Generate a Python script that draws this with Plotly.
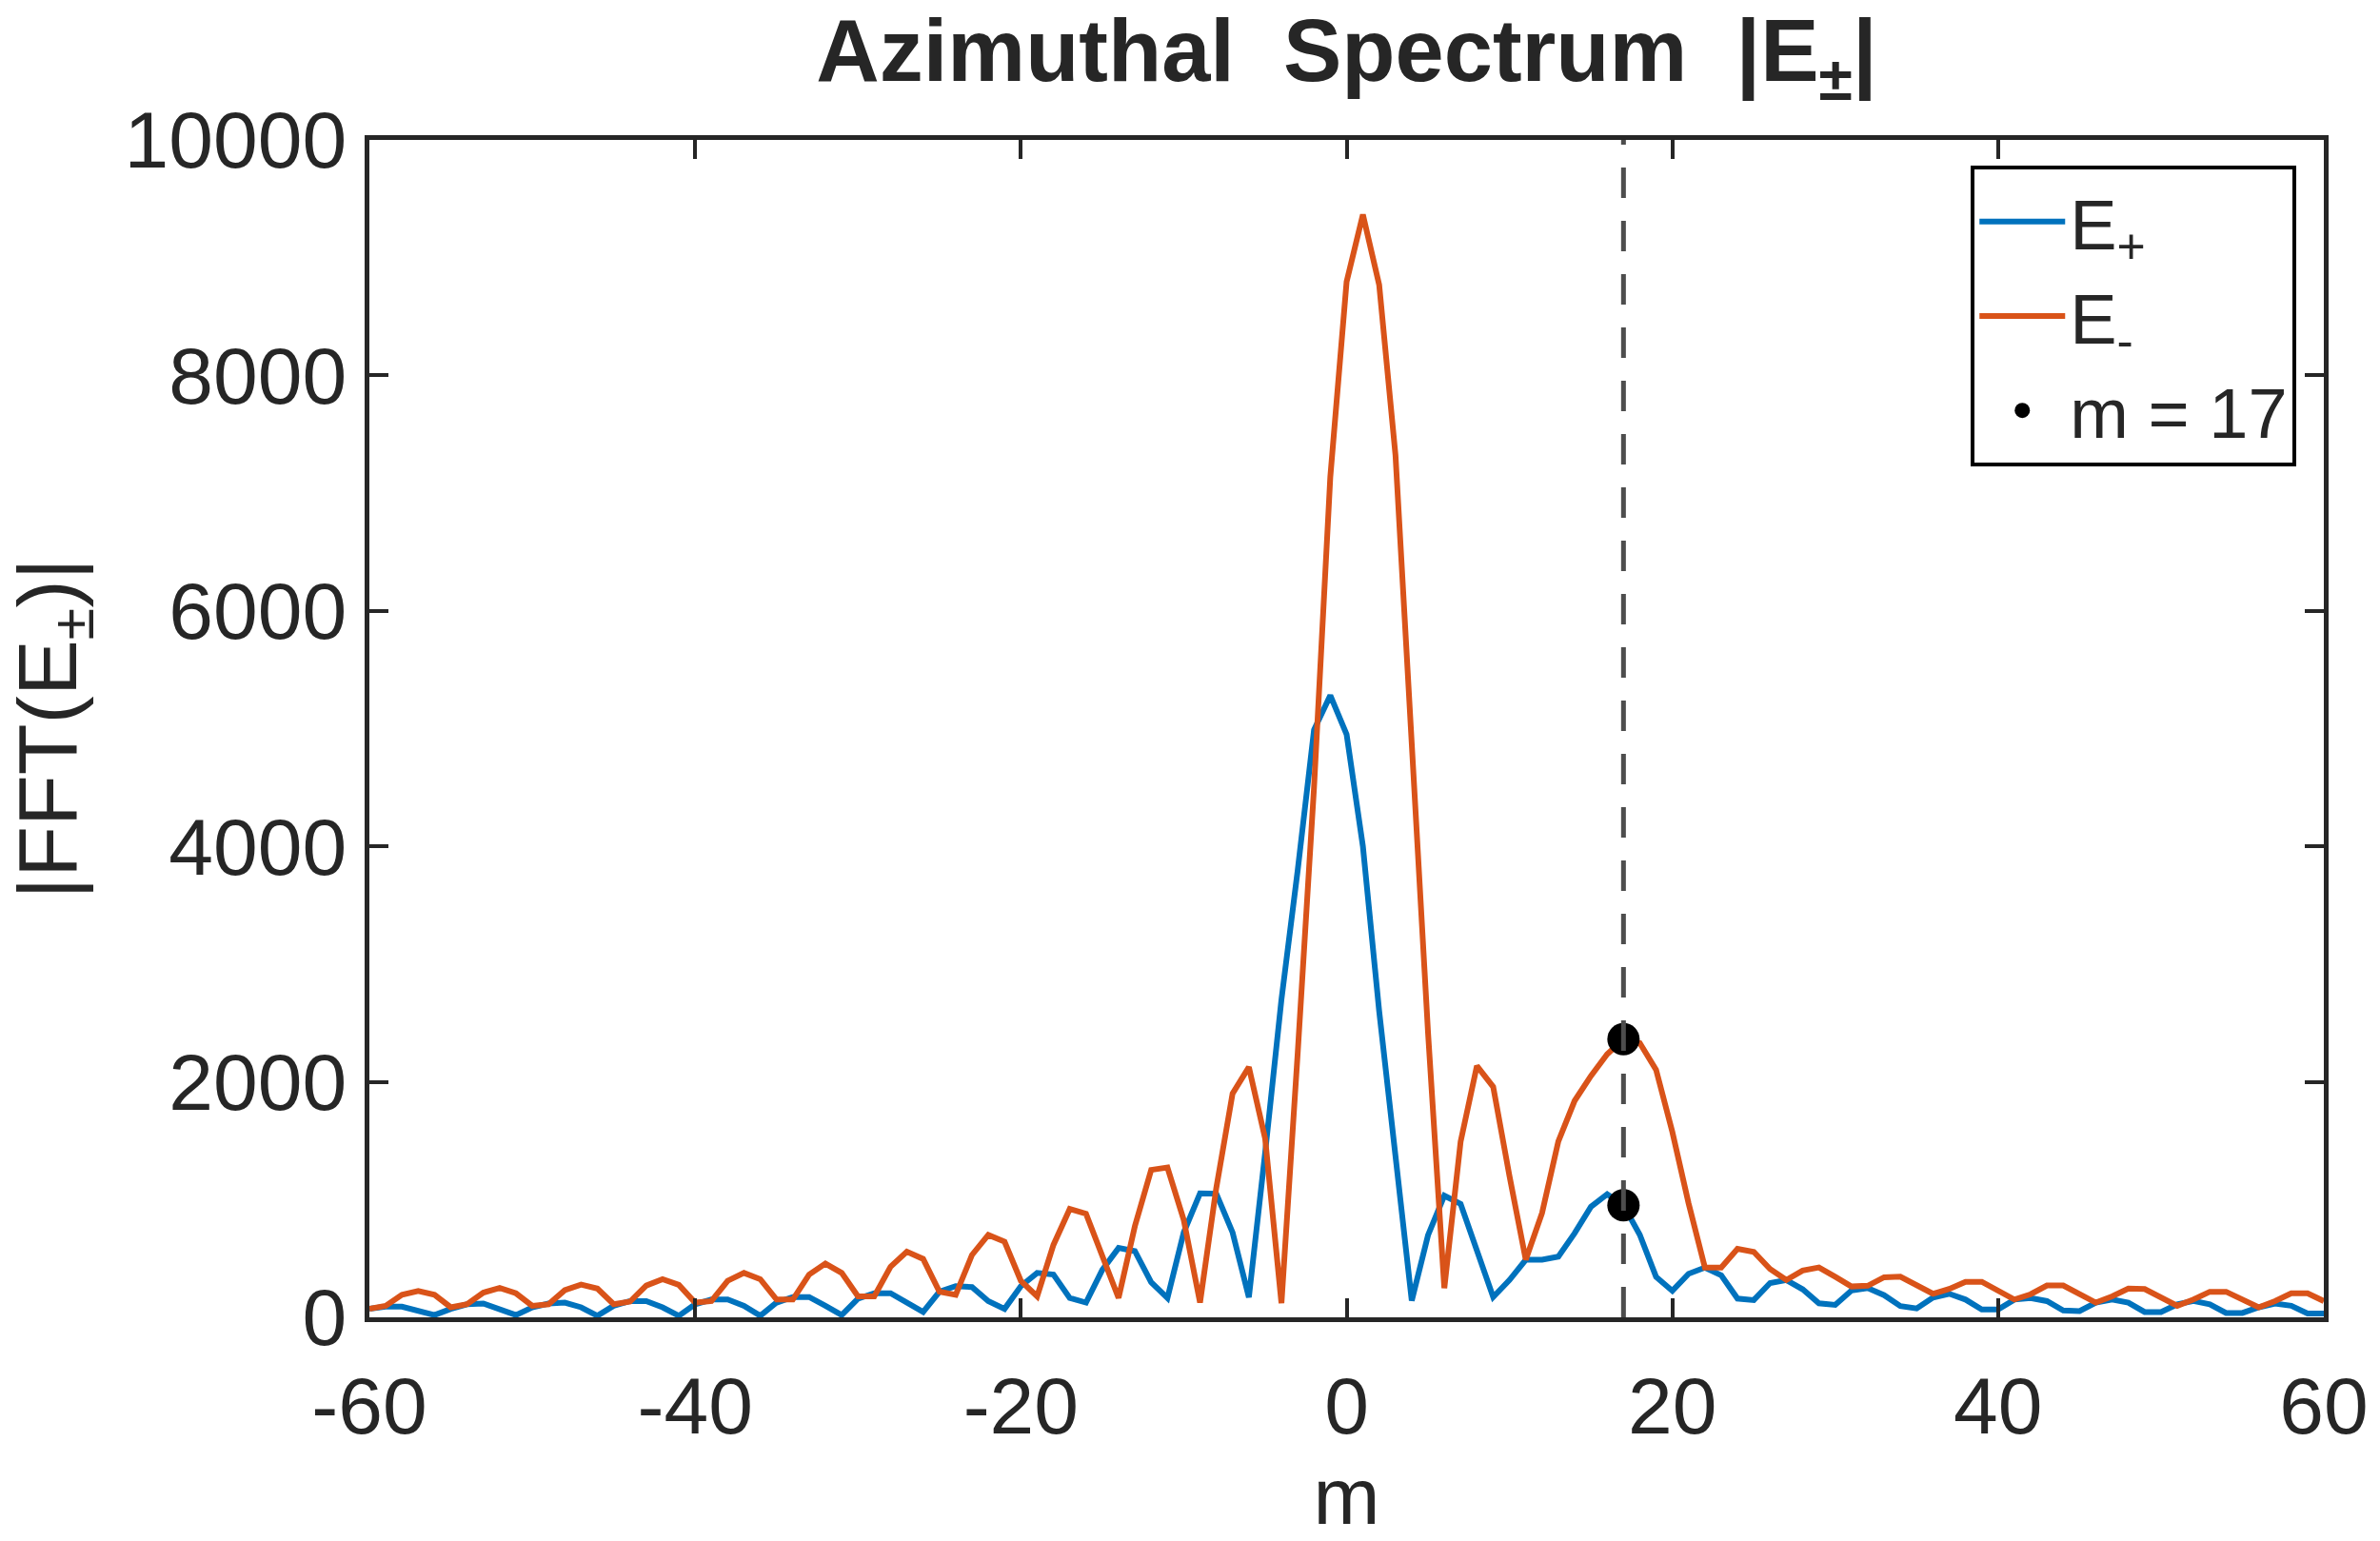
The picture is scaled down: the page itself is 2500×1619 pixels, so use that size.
import plotly.graph_objects as go

# ---------------- data ----------------
m_values = list(range(-60, 61))

e_plus = [
    72, 90, 90, 58, 19, 72, 111, 117, 72, 19,          # -60 .. -51
    85, 117, 125, 85, 13, 98, 138, 138, 85, 13,         # -50 .. -41
    111, 151, 151, 98, 13, 125, 172, 172, 98, 19,       # -40 .. -31
    159, 204, 204, 125, 45, 218, 265, 257, 138, 72,     # -30 .. -21
    265, 377, 363, 164, 125, 403, 589, 562, 297, 164,   # -20 .. -11
    721, 1053, 1050, 720, 170, 1400, 2700, 3800, 4990, 5282,  # -10 .. -1
    4951,                                               # 0
    4000, 2600, 1371, 142, 698, 1033, 963, 566, 172, 317,     # 1 .. 10
    489, 489, 516, 714, 939, 1045, 952, 701, 344, 225,  # 11 .. 20
    370, 423, 357, 159, 146, 291, 317, 238, 119, 106,   # 21 .. 30
    228, 248, 188, 95, 75, 168, 200, 151, 66, 66,       # 31 .. 40
    151, 164, 138, 58, 53, 125, 151, 125, 45, 45,       # 41 .. 50
    111, 138, 111, 37, 37, 85, 117, 98, 32, 32,         # 51 .. 60
]

e_minus = [
    72, 98, 191, 223, 191, 85, 111, 210, 249, 204,      # -60 .. -51
    98, 111, 231, 278, 244, 111, 133, 270, 324, 276,    # -50 .. -41
    125, 138, 310, 377, 324, 151, 151, 363, 456, 377,   # -40 .. -31
    178, 178, 430, 557, 496, 218, 191, 530, 700, 642,   # -30 .. -21
    310, 178, 615, 920, 880, 522, 164, 774, 1252, 1273, # -20 .. -11
    827, 125, 1100, 1901, 2125, 1517, 120, 2250, 4500, 7139,  # -10 .. -1
    8796,                                               # 0
    9366, 8769, 7325, 4823, 2418, 248, 1492, 2135, 1958, 1200,  # 1 .. 10
    489, 886, 1495, 1839, 2050, 2235, 2362, 2330, 2103, 1574,   # 11 .. 20
    966, 423, 423, 582, 556, 410, 317, 397, 423, 344,   # 21 .. 30
    262, 268, 340, 345, 274, 200, 241, 302, 302, 231,   # 31 .. 40
    151, 196, 270, 270, 191, 125, 178, 244, 240, 164,   # 41 .. 50
    98, 151, 217, 217, 151, 85, 138, 204, 204, 138,     # 51 .. 60
]

m_mark = 17
x_ticks = [-60, -40, -20, 0, 20, 40, 60]
x_tick_labels = ["-60", "-40", "-20", "0", "20", "40", "60"]
y_ticks = [0, 2000, 4000, 6000, 8000, 10000]
y_tick_labels = ["0", "2000", "4000", "6000", "8000", "10000"]
x_range = [-60, 60]
y_range = [0, 10000]

# ---------------- styling ----------------
BLUE = "#0072BD"
ORANGE = "#D95319"
AX = "#262626"
FONT = "Liberation Sans, Arial, Helvetica, sans-serif"

idx = m_values.index(m_mark)
mark_y = [e_minus[idx], e_plus[idx]]

fig = go.Figure()
fig.add_trace(go.Scatter(x=m_values, y=e_plus, mode="lines", name="E<sub>+</sub>",
                         line=dict(color=BLUE, width=6)))
fig.add_trace(go.Scatter(x=m_values, y=e_minus, mode="lines", name="E<sub>-</sub>",
                         line=dict(color=ORANGE, width=6)))
fig.add_trace(go.Scatter(x=[m_mark, m_mark], y=mark_y, mode="markers",
                         name="m = " + str(m_mark),
                         marker=dict(color="black", size=34)))
fig.add_trace(go.Scatter(x=[m_mark, m_mark], y=y_range, mode="lines", showlegend=False,
                         line=dict(color="#4d4d4d", width=5, dash="32px,24px"),
                         hoverinfo="skip"))

axis_common = dict(
    showline=True, linewidth=5, linecolor=AX, mirror="ticks",
    ticks="inside", ticklen=20, tickwidth=4, tickcolor=AX,
    showgrid=False, zeroline=False,
    tickfont=dict(family=FONT, size=84, color=AX),
)

fig.update_layout(
    width=2500, height=1619,
    margin=dict(l=388, r=56, t=147, b=215),
    paper_bgcolor="white", plot_bgcolor="white",
    font=dict(family=FONT, color=AX),
    title=dict(
        text="<b>Azimuthal\u00a0\u00a0Spectrum\u00a0\u00a0|E<sub>\u00b1</sub>|</b>",
        x=0.5, xref="paper", xanchor="center",
        y=0.987, yref="container", yanchor="top",
        font=dict(family=FONT, size=92, color=AX),
    ),
    xaxis=dict(range=x_range, tickvals=x_ticks, ticktext=x_tick_labels, ticklabelstandoff=16,
               title=dict(text="m", font=dict(family=FONT, size=84, color=AX), standoff=24),
               **axis_common),
    yaxis=dict(range=y_range, tickvals=y_ticks, ticktext=y_tick_labels, ticklabelstandoff=2,
               title=dict(text="|FFT(E<sub>\u00b1</sub>)|", font=dict(family=FONT, size=88, color=AX),
                          standoff=48),
               **axis_common),
    legend=dict(
        x=0.986, xanchor="right", y=0.978, yanchor="top",
        bgcolor="white", bordercolor="#000000", borderwidth=4,
        font=dict(family=FONT, size=74, color=AX),
        itemwidth=90, tracegroupgap=0,
    ),
    showlegend=True,
)

fig.write_html("out.html")
